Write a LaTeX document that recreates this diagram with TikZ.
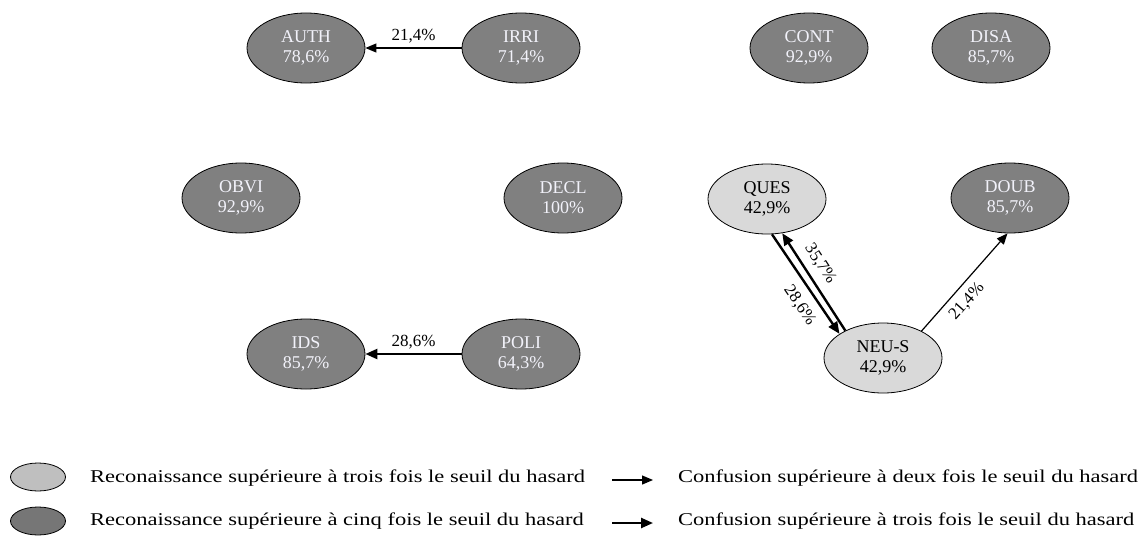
\documentclass[tikz,border=0pt]{standalone}
\usepackage{fontspec}
\setmainfont{Liberation Serif}
\newfontfamily\widefont{Liberation Serif}[FakeStretch=1.25]
\usepackage{xcolor}
\usepackage{tikz}
\usetikzlibrary{arrows.meta,shapes.geometric}
\definecolor{darkgrey}{RGB}{128,128,128}
\definecolor{lightgrey}{RGB}{217,217,217}
\definecolor{keylight}{RGB}{191,191,191}
\definecolor{keydark}{RGB}{118,118,118}
\definecolor{paletext}{RGB}{242,242,250}

\begin{document}
\begin{tikzpicture}[
  x=1pt, y=-1pt,
  font=\fontsize{18}{20}\selectfont,
  darknode/.style={draw, ellipse, align=center, minimum width=118pt, minimum height=70pt, inner sep=0pt, line width=0.8pt, fill=darkgrey, text=paletext},
  lightnode/.style={darknode, fill=lightgrey, text=black},
  weak/.style={-{Triangle[length=11pt,width=9pt]}, line width=1.2pt},
  strong/.style={-{Triangle[length=12pt,width=10pt]}, line width=2.4pt},
  note/.style={font=\fontsize{17}{19}\selectfont, inner sep=1pt},
  key/.style={draw, ellipse, minimum width=55pt, minimum height=28pt, inner sep=0pt, line width=0.8pt},
  keytext/.style={anchor=west, font=\fontsize{18}{20}\widefont, inner sep=0pt}
]
\useasboundingbox (0,0) rectangle (1147,535);

\node[darknode] (auth) at (306,48) {AUTH\\78,6\%};
\node[darknode] (irri) at (521,48) {IRRI\\71,4\%};
\node[darknode] (cont) at (809,48) {CONT\\92,9\%};
\node[darknode] (disa) at (991,48) {DISA\\85,7\%};

\node[darknode] (obvi) at (241,198) {OBVI\\92,9\%};
\node[darknode] (decl) at (563,198) {DECL\\100\%};
\node[lightnode] (ques) at (767,199) {QUES\\42,9\%};
\node[darknode] (doub) at (1010,198) {DOUB\\85,7\%};

\node[darknode] (ids) at (306,354) {IDS\\85,7\%};
\node[darknode] (poli) at (521,354) {POLI\\64,3\%};
\node[lightnode] (neus) at (883,358) {NEU-S\\42,9\%};

\draw[weak] (irri) -- node[note,above=3pt]{21,4\%} (auth);
\draw[strong] (poli) -- node[note,above=3pt]{28,6\%} (ids);
\draw[strong] (ques.-82) -- node[note,sloped,below=8pt,pos=0.62]{28,6\%} (neus.151);
\draw[strong] (neus.144) -- node[note,sloped,above=6pt,pos=0.6]{35,7\%} (ques.-66);
\draw[weak] (neus.35) -- node[note,sloped,below=6pt,pos=0.4]{21,4\%} (doub.-94);

\node[key, fill=keylight] (keylow) at (38,477) {};
\node[key, fill=keydark] (keyhigh) at (38,521) {};
\node[keytext] (keylowtext) at (90,478) {Reconaissance supérieure à trois fois le seuil du hasard};
\node[keytext] (keyhightext) at (90,521) {Reconaissance supérieure à cinq fois le seuil du hasard};

\coordinate (weakstart) at (612,480);
\coordinate (weakend) at (653,480);
\coordinate (strongstart) at (612,523);
\coordinate (strongend) at (653,523);
\draw[weak] (weakstart) -- (weakend);
\draw[strong] (strongstart) -- (strongend);
\node[keytext] (weaktext) at (678,478) {Confusion supérieure à deux fois le seuil du hasard};
\node[keytext] (strongtext) at (678,521) {Confusion supérieure à trois fois le seuil du hasard};
\end{tikzpicture}
\end{document}
